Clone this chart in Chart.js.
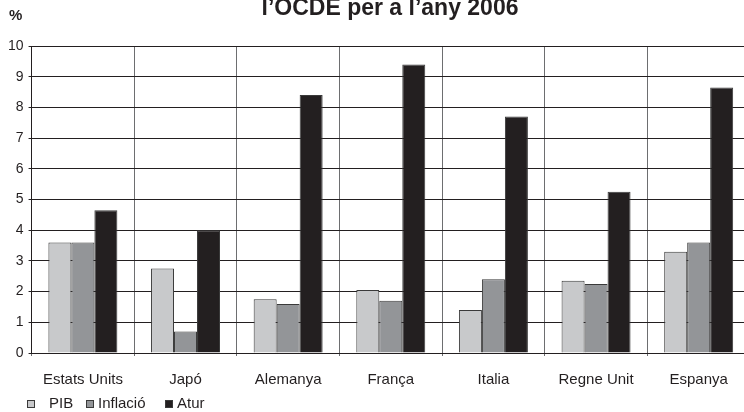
<!DOCTYPE html>
<html>
<head>
<meta charset="utf-8">
<script src="https://cdn.jsdelivr.net/npm/chart.js@4/dist/chart.umd.min.js"></script>
<style>
html,body{margin:0;padding:0;background:#fff;overflow:hidden;}
#wrap{position:relative;width:780px;height:412px;}
</style>
</head>
<body>
<div id="wrap"><canvas id="c"></canvas></div>
<script>
const categories = ['Estats Units','Japó','Alemanya','França','Italia','Regne Unit','Espanya'];
const seriesNames = ['PIB','Inflació','Atur'];
const pib = [3.6, 2.75, 1.75, 2.05, 1.4, 2.35, 3.3];
const inflacio = [3.6, 0.7, 1.6, 1.7, 2.4, 2.25, 3.6];
const atur = [4.65, 4.0, 8.4, 9.4, 7.7, 5.25, 8.65];
const yTicks = [0,1,2,3,4,5,6,7,8,9,10];
const titleText = "l’OCDE per a l’any 2006";
const unitText = '%';

const fills = ['#c8c9cb','#939598','#231f20'];
const FONT = "'Liberation Sans', Arial, Helvetica, sans-serif";

const extras = {
  id: 'extras',
  afterDraw(chart) {
    const ctx = chart.ctx;
    ctx.save();
    ctx.fillStyle = '#231f20';
    // title (centred over the plot area)
    ctx.font = 'bold 23px ' + FONT;
    ctx.textAlign = 'center';
    ctx.textBaseline = 'alphabetic';
    ctx.fillText(titleText, 390, 15);
    // unit
    ctx.textAlign = 'left';
    ctx.textBaseline = 'middle';
    ctx.font = 'bold 15px ' + FONT;
    ctx.fillText(unitText, 9, 16);
    // legend
    const boxX = [27, 86, 165];
    const textX = [49, 98, 177];
    const ly = 404;
    ctx.font = '15px ' + FONT;
    chart.data.datasets.forEach((ds, i) => {
      ctx.fillStyle = ds.backgroundColor;
      ctx.fillRect(boxX[i] + 0.5, ly - 3.5, 7, 7);
      ctx.strokeStyle = '#3a3a3a';
      ctx.lineWidth = 1;
      ctx.strokeRect(boxX[i] + 0.5, ly - 3.5, 7, 7);
      ctx.fillStyle = '#231f20';
      ctx.fillText(ds.label, textX[i], ly);
    });
    ctx.restore();
  }
};

new Chart(document.getElementById('c'), {
  type: 'bar',
  data: {
    labels: categories,
    datasets: [
      {label: seriesNames[0], data: pib, backgroundColor: fills[0]},
      {label: seriesNames[1], data: inflacio, backgroundColor: fills[1]},
      {label: seriesNames[2], data: atur, backgroundColor: fills[2]}
    ].map(d => Object.assign(d, {
      borderColor: '#3a3a3a', borderWidth: 1, borderSkipped: 'bottom',
      barPercentage: 1, categoryPercentage: 0.672
    }))
  },
  options: {
    responsive: true,
    maintainAspectRatio: false,
    animation: false,
    devicePixelRatio: 1,
    layout: {padding: {left: 3, right: 30, top: 46, bottom: 8}},
    plugins: {
      legend: {display: false},
      tooltip: {enabled: false},
      title: {display: false}
    },
    scales: {
      x: {
        grid: {display: true, offset: true, color: '#6d6e70', lineWidth: 1, tickLength: 3, drawTicks: true},
        border: {display: true, color: '#231f20', width: 1},
        ticks: {color: '#231f20', font: {family: FONT, size: 15}, padding: 15, maxRotation: 0, autoSkip: false}
      },
      y: {
        min: 0, max: 10,
        afterBuildTicks: (axis) => { axis.ticks = yTicks.map(v => ({value: v})); },
        grid: {color: '#231f20', lineWidth: 1, tickLength: 3},
        border: {display: true, color: '#231f20', width: 1},
        ticks: {color: '#231f20', font: {family: FONT, size: 14}, padding: 5}
      }
    }
  },
  plugins: [extras]
});
</script>
</body>
</html>
